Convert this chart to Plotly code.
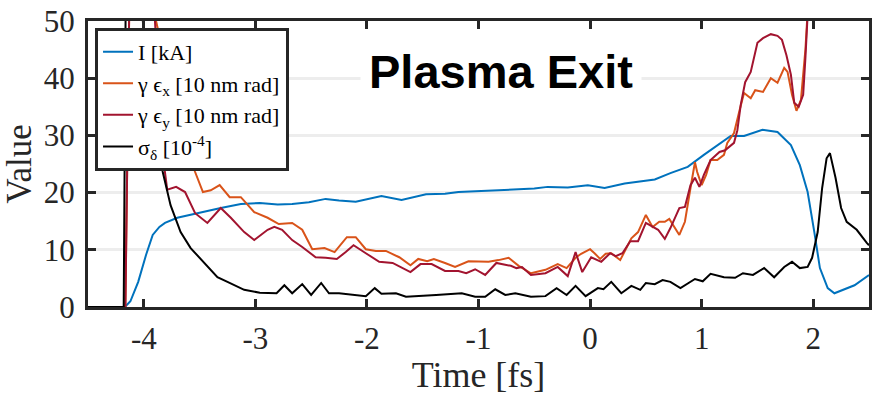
import plotly.graph_objects as go

# ---- data ----
t_I = [-4.5, -4.17, -4.12, -4.05, -3.98, -3.92, -3.86, -3.81, -3.70, -3.52, -3.31, -3.13, -2.96, -2.80, -2.67,
       -2.52, -2.37, -2.25, -2.10, -1.87, -1.69, -1.47, -1.30, -1.18, -0.97, -0.80, -0.67, -0.50, -0.38, -0.20,
       -0.02, 0.13, 0.31, 0.46, 0.58, 0.72, 0.875, 1.02, 1.17, 1.26, 1.38, 1.545, 1.68, 1.80, 1.88, 1.95, 2.01,
       2.06, 2.13, 2.19, 2.37, 2.5]
I_kA = [0, 0, 1.0, 4.4, 9.1, 12.6, 14.0, 14.7, 15.6, 16.4, 17.3, 18.0, 18.2, 17.9, 18.0,
        18.3, 18.9, 18.6, 18.4, 19.4, 18.7, 19.7, 19.8, 20.1, 20.3, 20.4, 20.6, 20.7, 21.0, 20.9,
        21.3, 20.8, 21.6, 22.0, 22.3, 23.4, 24.5, 26.6, 28.7, 29.9, 29.9, 31.0, 30.6, 28.3, 24.8, 20.1, 13.1,
        6.8, 3.3, 2.4, 3.8, 5.6]

t_ex = [-4.5, -4.165, -4.125, -4.08, -3.98, -3.89, -3.75, -3.62, -3.54, -3.47, -3.40, -3.32, -3.23, -3.13, -3.01,
        -2.89, -2.79, -2.67, -2.58, -2.49, -2.38, -2.29, -2.18, -2.10, -2.01, -1.92, -1.83, -1.71, -1.61, -1.54,
        -1.46, -1.40, -1.30, -1.21, -1.09, -0.91, -0.82, -0.73, -0.64, -0.53, -0.40, -0.29, -0.21, -0.13, -0.08,
        0.00, 0.04, 0.09, 0.14, 0.19, 0.27, 0.37, 0.43, 0.50, 0.56, 0.62, 0.67, 0.71, 0.80, 0.85, 0.90, 0.94,
        0.96, 1.00, 1.04, 1.08, 1.14, 1.20, 1.23, 1.29, 1.34, 1.38, 1.44, 1.48, 1.55, 1.62, 1.68, 1.74, 1.77,
        1.81, 1.85, 1.89, 1.93, 1.96, 2.1, 2.3, 2.5]
eps_x = [0, 0, 60, 80, 70, 50, 38, 28, 23.6, 20.1, 20.4, 21.3, 19.2, 19.2, 16.6,
         15.6, 14.5, 14.7, 13.5, 10.1, 10.3, 9.6, 12.2, 12.2, 10.1, 9.8, 9.8, 8.7, 7.3, 8.4,
         8.0, 8.4, 7.7, 7.0, 8.0, 7.9, 8.2, 8.6, 7.2, 5.9, 6.5, 7.5, 6.8, 8.6, 9.3,
         10.1, 9.4, 8.4, 9.3, 9.4, 8.2, 12.0, 13.1, 16.1, 14.0, 14.9, 14.9, 15.4, 12.6, 14.9, 20.8, 25.3,
         23.6, 21.3, 23.1, 25.7, 25.7, 26.6, 28.7, 30.4, 34.4, 37.4, 36.5, 37.9, 37.6, 40.0, 39.2, 41.8, 41.1,
         37.1, 34.3, 36.2, 45, 55, 70, 75, 72]

t_ey = [-4.5, -4.165, -4.125, -4.08, -3.98, -3.90, -3.82, -3.79, -3.71, -3.63, -3.54, -3.43, -3.31, -3.22, -3.10,
        -3.01, -2.89, -2.83, -2.76, -2.67, -2.58, -2.46, -2.37, -2.27, -2.19, -2.12, -2.01, -1.89, -1.77, -1.61,
        -1.52, -1.42, -1.30, -1.18, -1.11, -1.03, -0.94, -0.84, -0.71, -0.66, -0.61, -0.53, -0.40, -0.29, -0.20,
        -0.13, -0.07, 0.01, 0.10, 0.18, 0.23, 0.29, 0.36, 0.43, 0.50, 0.56, 0.61, 0.67, 0.72, 0.80, 0.85,
        0.90, 0.94, 0.98, 1.02, 1.08, 1.16, 1.21, 1.29, 1.32, 1.35, 1.39, 1.44, 1.50, 1.55, 1.62, 1.68, 1.72,
        1.76, 1.80, 1.83, 1.87, 1.91, 1.93, 1.95, 2.0, 2.2, 2.5]
eps_y = [0, 0, 60, 85, 70, 50, 25, 20.5, 21.0, 20.1, 16.4, 14.7, 17.3, 15.6, 13.1,
         11.7, 13.5, 14.0, 13.5, 11.7, 10.5, 8.7, 8.6, 8.4, 9.6, 10.8, 9.4, 7.9, 7.7, 6.1,
         7.5, 7.5, 6.3, 6.3, 5.9, 6.6, 5.6, 7.7, 7.2, 6.8, 7.0, 5.6, 5.9, 7.0, 5.4,
         9.6, 6.1, 8.7, 7.9, 9.4, 8.9, 9.4, 11.5, 11.5, 14.7, 14.0, 13.5, 11.9, 13.8, 17.3, 17.5,
         21.3, 22.6, 21.0, 23.1, 25.7, 27.1, 27.4, 28.7, 30.9, 35.3, 39.3, 41.1, 46.2, 47.0, 47.7, 47.4, 46.7,
         44.0, 40.6, 35.7, 35.0, 37.1, 43.5, 50, 70, 90, 85]

t_sd = [-4.5, -4.18, -4.16, -4.12, -4.06, -4.0, -3.93, -3.83, -3.76, -3.67, -3.58, -3.46, -3.34, -3.25, -3.10,
        -2.96, -2.81, -2.74, -2.67, -2.58, -2.50, -2.41, -2.34, -2.25, -2.13, -2.01, -1.93, -1.87, -1.74, -1.65,
        -1.38, -1.15, -1.03, -0.94, -0.85, -0.76, -0.67, -0.53, -0.40, -0.30, -0.21, -0.13, -0.04, 0.07, 0.12,
        0.19, 0.28, 0.37, 0.45, 0.50, 0.58, 0.65, 0.72, 0.81, 0.94, 1.01, 1.08, 1.20, 1.30, 1.37, 1.46, 1.56,
        1.65, 1.74, 1.81, 1.88, 1.95, 1.99, 2.04, 2.08, 2.12, 2.15, 2.20, 2.25, 2.30, 2.39, 2.48, 2.5]
sigma_d = [0, 0, 60, 75, 62, 48, 35, 23.6, 17.8, 13.1, 10.3, 7.7, 5.2, 4.4, 3.0,
           2.5, 2.4, 3.8, 2.4, 4.0, 2.1, 4.2, 2.4, 2.4, 2.1, 1.9, 3.3, 2.3, 2.4, 1.8,
           2.1, 2.4, 1.8, 1.8, 3.1, 2.1, 2.4, 1.8, 1.9, 3.3, 2.1, 3.7, 1.9, 3.3, 3.1,
           4.4, 2.4, 3.7, 3.0, 4.2, 4.0, 4.7, 4.4, 3.3, 4.9, 4.5, 5.8, 5.2, 5.1, 5.9, 5.6, 6.8,
           5.2, 7.0, 7.9, 6.8, 7.0, 8.6, 13.1, 20.8, 26.0, 26.9, 22.6, 17.3, 14.9, 13.5, 11.2, 10.8]

x_ticks = [-4, -3, -2, -1, 0, 1, 2]
x_tick_text = ["-4", "-3", "-2", "-1", "0", "1", "2"]
y_ticks = [0, 10, 20, 30, 40, 50]

names = ["I [kA]", "γ ϵ<sub>x</sub> [10 nm rad]", "γ ϵ<sub>y</sub> [10 nm rad]", "σ<sub>δ</sub> [10<sup>-4</sup>]"]
colors = ["#0072BD", "#D95319", "#A2142F", "#000000"]

SERIF = "Liberation Serif, Times New Roman, serif"

fig = go.Figure()
for tx, ty, nm, c in zip([t_I, t_ex, t_ey, t_sd], [I_kA, eps_x, eps_y, sigma_d], names, colors):
    fig.add_trace(go.Scatter(x=tx, y=ty, mode="lines", name=nm, line=dict(color=c, width=2)))

axis_common = dict(showline=True, linecolor="#262626", linewidth=3, mirror="ticks",
                   ticks="inside", ticklen=8, tickwidth=3, tickcolor="#262626", zeroline=False,
                   tickfont=dict(family=SERIF, size=31, color="#262626"))

fig.update_xaxes(range=[-4.5, 2.5], tickvals=x_ticks, ticktext=x_tick_text, showgrid=False,
                 ticklabelstandoff=2,
                 title=dict(text="Time [fs]", font=dict(family=SERIF, size=36, color="#262626"), standoff=8),
                 **axis_common)
fig.update_yaxes(range=[0, 50], tickvals=y_ticks, showgrid=True, gridcolor="#ededed", gridwidth=3,
                 ticklabelstandoff=4,
                 title=dict(text="Value", font=dict(family=SERIF, size=35, color="#262626"), standoff=4),
                 **axis_common)

fig.add_annotation(x=0.529, y=0.822, xref="paper", yref="paper", xanchor="center", yanchor="middle",
                   text="<b>Plasma Exit</b>", showarrow=False,
                   font=dict(family="Liberation Sans, Arial, sans-serif", size=47, color="#000000"),
                   bgcolor="white", borderpad=8)

fig.update_layout(
    width=874, height=395, margin=dict(l=88, r=2, t=21, b=88),
    plot_bgcolor="white", paper_bgcolor="white",
    font=dict(family=SERIF, color="#262626"),
    legend=dict(x=0.009, y=0.976, xanchor="left", yanchor="top", bgcolor="white",
                bordercolor="#262626", borderwidth=3,
                font=dict(family=SERIF, size=22, color="#000000"),
                tracegroupgap=0, itemwidth=30),
)

fig.write_html("out.html")
